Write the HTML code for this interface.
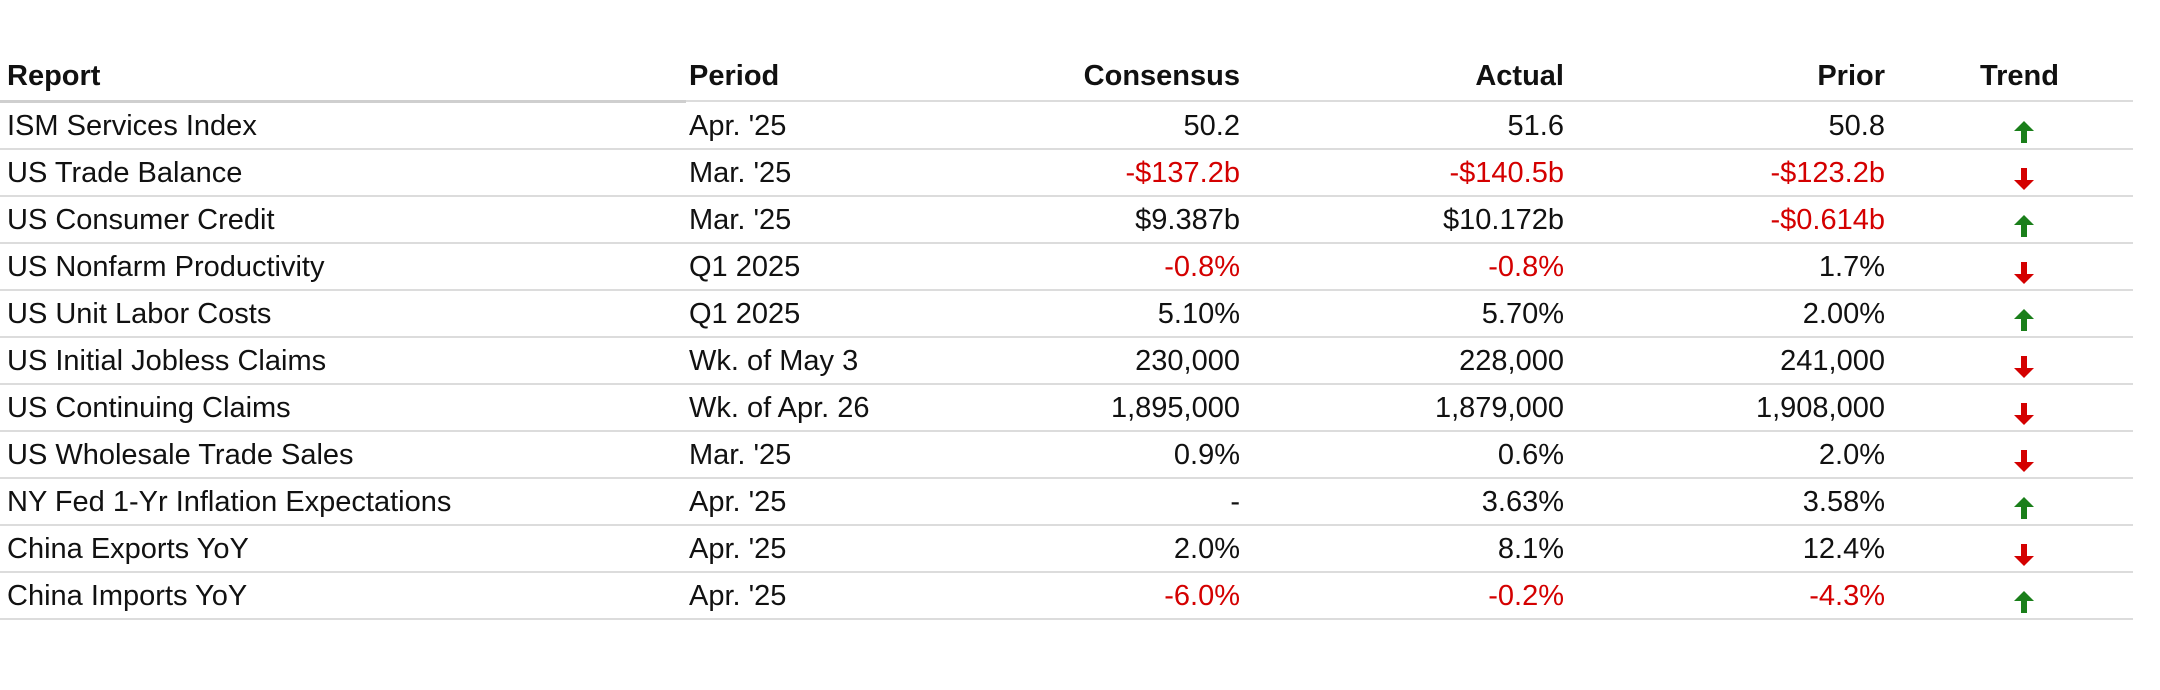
<!DOCTYPE html>
<html><head><meta charset="utf-8"><style>
html,body{margin:0;padding:0;background:#fff;}
body{width:2160px;height:690px;position:relative;overflow:hidden;font-family:"Liberation Sans",sans-serif;color:#111;}
.hdr{position:absolute;top:56px;font-size:29px;font-weight:bold;line-height:40px;}
.row{position:absolute;left:0;width:2133px;height:47px;border-bottom:2px solid #dcdcdc;box-sizing:border-box;}
.c{position:absolute;top:3px;font-size:29px;line-height:40px;white-space:nowrap;}
.r{text-align:right;}
.neg{color:#d40000;}
.rep{left:7px;}
.per{left:689px;}
.con{right:893px;}
.act{right:569px;}
.pri{right:248px;}
.tr{left:2013px;top:12px;}
.hl{position:absolute;left:0;top:100px;width:2133px;height:2px;background:#dcdcdc;}
.hl2{position:absolute;left:0;top:100px;width:686px;height:3px;background:#cfcfcf;}
</style></head><body>
<div class="hdr" style="left:7px">Report</div>
<div class="hdr" style="left:689px">Period</div>
<div class="hdr" style="right:920px">Consensus</div>
<div class="hdr" style="right:596px">Actual</div>
<div class="hdr" style="right:275px">Prior</div>
<div class="hdr" style="left:1980px">Trend</div>
<div class="hl"></div>
<div class="hl2"></div>
<div id="rows"></div>
<script>
const reports=["ISM Services Index","US Trade Balance","US Consumer Credit","US Nonfarm Productivity","US Unit Labor Costs","US Initial Jobless Claims","US Continuing Claims","US Wholesale Trade Sales","NY Fed 1-Yr Inflation Expectations","China Exports YoY","China Imports YoY"];
const periods=["Apr. '25","Mar. '25","Mar. '25","Q1 2025","Q1 2025","Wk. of May 3","Wk. of Apr. 26","Mar. '25","Apr. '25","Apr. '25","Apr. '25"];
const consensus=["50.2","-$137.2b","$9.387b","-0.8%","5.10%","230,000","1,895,000","0.9%","-","2.0%","-6.0%"];
const actual=["51.6","-$140.5b","$10.172b","-0.8%","5.70%","228,000","1,879,000","0.6%","3.63%","8.1%","-0.2%"];
const prior=["50.8","-$123.2b","-$0.614b","1.7%","2.00%","241,000","1,908,000","2.0%","3.58%","12.4%","-4.3%"];
const trend=["up","down","up","down","up","down","down","down","up","down","up"];
const root=document.getElementById('rows');
function neg(v){return v.length>1&&v[0]==='-';}
for(let i=0;i<reports.length;i++){
  const row=document.createElement('div');
  row.className='row';
  row.style.top=(103+i*47)+'px';
  
  
  const cells=[['rep',reports[i],'report-cell'],['per',periods[i],'period-cell'],['con r',consensus[i],'consensus-cell'],['act r',actual[i],'actual-cell'],['pri r',prior[i],'prior-cell']];
  for(const [cls,txt,nm] of cells){
    const d=document.createElement('div');
    d.className='c '+cls+(cls.includes(' r')&&neg(txt)?' neg':'');
    d.textContent=txt;
    
    
    row.appendChild(d);
  }
  const t=document.createElement('div');
  t.className='c tr';
  
  
  const up=trend[i]==='up';
  const col=up?'#1a7f1a':'#d40000';
  t.innerHTML=up
   ?'<svg width="22" height="24" viewBox="0 0 22 24"><polygon points="11,1 21,11 14,11 14,23 8,23 8,11 1,11" fill="'+col+'"/></svg>'
   :'<svg width="22" height="24" viewBox="0 0 22 24"><polygon points="11,23 21,13 14,13 14,1 8,1 8,13 1,13" fill="'+col+'"/></svg>';
  row.appendChild(t);
  root.appendChild(row);
}
</script>
</body></html>
